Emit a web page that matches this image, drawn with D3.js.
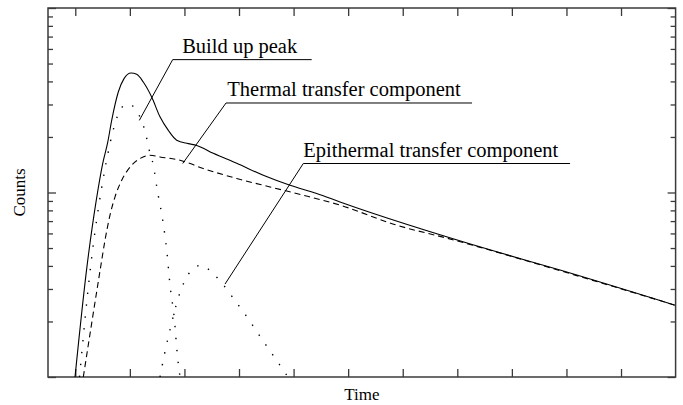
<!DOCTYPE html>
<html>
<head>
<meta charset="utf-8">
<script src="https://cdn.jsdelivr.net/npm/d3@7"></script>
<style>
  html, body { margin: 0; padding: 0; background: #fff; }
  svg { display: block; }
  text { font-family: "Liberation Serif", "Times New Roman", serif; fill: #000; }
</style>
</head>
<body>
<svg id="chart" width="683" height="405"></svg>
<script>
// ---- data (Time in arbitrary units, Counts on log scale) ----
const totalTime   = [0.995, 1.215, 1.387, 1.503, 1.594, 1.667, 1.788, 1.893, 2.021, 2.125, 2.246, 2.400, 2.552, 2.705, 2.858, 3.071, 3.225, 3.529, 3.958, 4.445, 4.935, 5.424, 5.851, 8.722, 9.882, 11.99];
const totalCounts = [1.00, 3.99, 9.18, 14.4, 18.7, 24.6, 35.05, 41.42, 44.4, 43.7, 39.7, 32.9, 25.7, 21.7, 19.2, 18.4, 18.0, 16.3, 14.4, 12.4, 10.95, 9.88, 8.89, 4.77, 3.80, 2.45];

const thermalTime   = [1.147, 1.466, 1.545, 1.636, 1.728, 1.851, 2.034, 2.186, 2.369, 2.552, 2.919, 3.346, 3.958, 4.568, 5.178, 5.851, 6.890, 7.806, 9.882, 11.99];
const thermalCounts = [1.00, 3.97, 5.52, 7.54, 9.47, 11.66, 14.05, 15.28, 15.92, 15.59, 14.96, 13.49, 11.91, 10.72, 9.67, 8.54, 6.65, 5.66, 3.77, 2.45];

const buildupTime   = [1.077, 1.282, 1.563, 1.636, 1.728, 1.819, 1.942, 2.034, 2.136, 2.235, 2.296, 2.356, 2.430, 2.503, 2.602, 2.675, 2.736, 2.814, 2.869, 2.919];
const buildupCounts = [1.00, 3.99, 14.41, 18.42, 23.63, 27.9, 30.07, 29.7, 27.3, 23.63, 20.43, 16.94, 14.05, 10.29, 7.08, 4.87, 3.15, 2.08, 1.33, 1.00];

const epiTime   = [2.552, 2.650, 2.749, 2.858, 3.005, 3.121, 3.304, 3.500, 3.652, 3.921, 4.178, 4.422, 4.673, 4.801, 4.898];
const epiCounts = [1.00, 1.40, 1.87, 2.51, 3.32, 3.76, 4.03, 3.70, 3.32, 2.61, 2.05, 1.60, 1.25, 1.10, 1.00];

const xTickValues = [1, 2, 3, 4, 5, 6, 7, 8, 9, 10, 11];
const yMajorTicks = [1, 10, 100];
const yMinorTicks = [2, 3, 4, 5, 6, 7, 8, 9, 20, 30, 40, 50, 60, 70, 80, 90];

const labelNames  = ["Build up peak", "Thermal transfer component", "Epithermal transfer component"];
const labelFromT  = [2.173, 2.968, 3.744];   // point on the curve (Time)
const labelFromC  = [24.6, 14.36, 3.19];     // point on the curve (Counts)
const labelElbowT = [2.785, 3.762, 5.178];
const labelElbowC = [52.5, 30.56, 14.36];
const labelEndT   = [5.332, 8.27, 10.066];

const xTitle = "Time";
const yTitle = "Counts";

// ---- layout ----
const svg = d3.select("#chart");
const L = 48, R = 675.6, T = 8, B = 377;
const x = d3.scaleLinear().domain([0.5, 12]).range([L, R]);
const y = d3.scaleLog().domain([1, 100]).range([B, T]);
const axisColor = "#3a3a3a";

svg.append("defs").append("clipPath").attr("id", "plotclip")
  .append("rect").attr("x", L).attr("y", T).attr("width", R - L).attr("height", B - T);

function styleAxis(g) {
  g.select(".domain").remove();
  g.selectAll(".tick line").attr("stroke", axisColor).attr("stroke-width", 1.3);
  g.selectAll(".tick text").remove();
}

// x axes (bottom and top), ticks pointing inward
svg.append("g").attr("transform", `translate(0,${B})`)
  .call(d3.axisBottom(x).tickValues(xTickValues).tickSize(-8).tickFormat(""))
  .call(styleAxis);
svg.append("g").attr("transform", `translate(0,${T})`)
  .call(d3.axisTop(x).tickValues(xTickValues).tickSize(-8).tickFormat(""))
  .call(styleAxis);

// y axes (left and right), major and minor
svg.append("g").attr("transform", `translate(${L},0)`)
  .call(d3.axisLeft(y).tickValues(yMajorTicks).tickSize(-8).tickFormat(""))
  .call(styleAxis);
svg.append("g").attr("transform", `translate(${L},0)`)
  .call(d3.axisLeft(y).tickValues(yMinorTicks).tickSize(-5).tickFormat(""))
  .call(styleAxis);
svg.append("g").attr("transform", `translate(${R},0)`)
  .call(d3.axisRight(y).tickValues(yMajorTicks).tickSize(-8).tickFormat(""))
  .call(styleAxis);
svg.append("g").attr("transform", `translate(${R},0)`)
  .call(d3.axisRight(y).tickValues(yMinorTicks).tickSize(-5).tickFormat(""))
  .call(styleAxis);

// frame
svg.append("rect").attr("x", L).attr("y", T).attr("width", R - L).attr("height", B - T)
  .attr("fill", "none").attr("stroke", axisColor).attr("stroke-width", 1.5);

// curves
const line = d3.line().x(d => x(d[0])).y(d => y(d[1])).curve(d3.curveMonotoneX);
const plot = svg.append("g").attr("clip-path", "url(#plotclip)");

function drawSeries(ts, cs, dash, w) {
  plot.append("path")
    .datum(ts.map((t, i) => [t, cs[i]]))
    .attr("d", line)
    .attr("fill", "none")
    .attr("stroke", "#000")
    .attr("stroke-width", w)
    .attr("stroke-dasharray", dash);
}
drawSeries(thermalTime, thermalCounts, "6,4", 1.1);
drawSeries(buildupTime, buildupCounts, "1.4,10.5", 1.4);
drawSeries(epiTime, epiCounts, "1.4,10.5", 1.4);
drawSeries(totalTime, totalCounts, null, 1.1);

// annotations
const textDx = [9.5, 1.3, 0];
labelNames.forEach((name, i) => {
  const x0 = x(labelFromT[i]), y0 = y(labelFromC[i]);
  const x1 = x(labelElbowT[i]), y1 = y(labelElbowC[i]);
  const x2 = x(labelEndT[i]);
  svg.append("polyline")
    .attr("points", `${x0},${y0} ${x1},${y1} ${x2},${y1}`)
    .attr("fill", "none").attr("stroke", "#000").attr("stroke-width", 1);
  svg.append("text")
    .attr("x", x1 + textDx[i]).attr("y", y1 - 7)
    .attr("font-size", "20.5px")
    .text(name);
});

// axis titles
svg.append("text")
  .attr("x", (L + R) / 2).attr("y", 400)
  .attr("text-anchor", "middle").attr("font-size", "17px")
  .text(xTitle);
svg.append("text")
  .attr("transform", `translate(25,${(T + B) / 2}) rotate(-90)`)
  .attr("text-anchor", "middle").attr("font-size", "17px")
  .text(yTitle);
</script>
</body>
</html>
